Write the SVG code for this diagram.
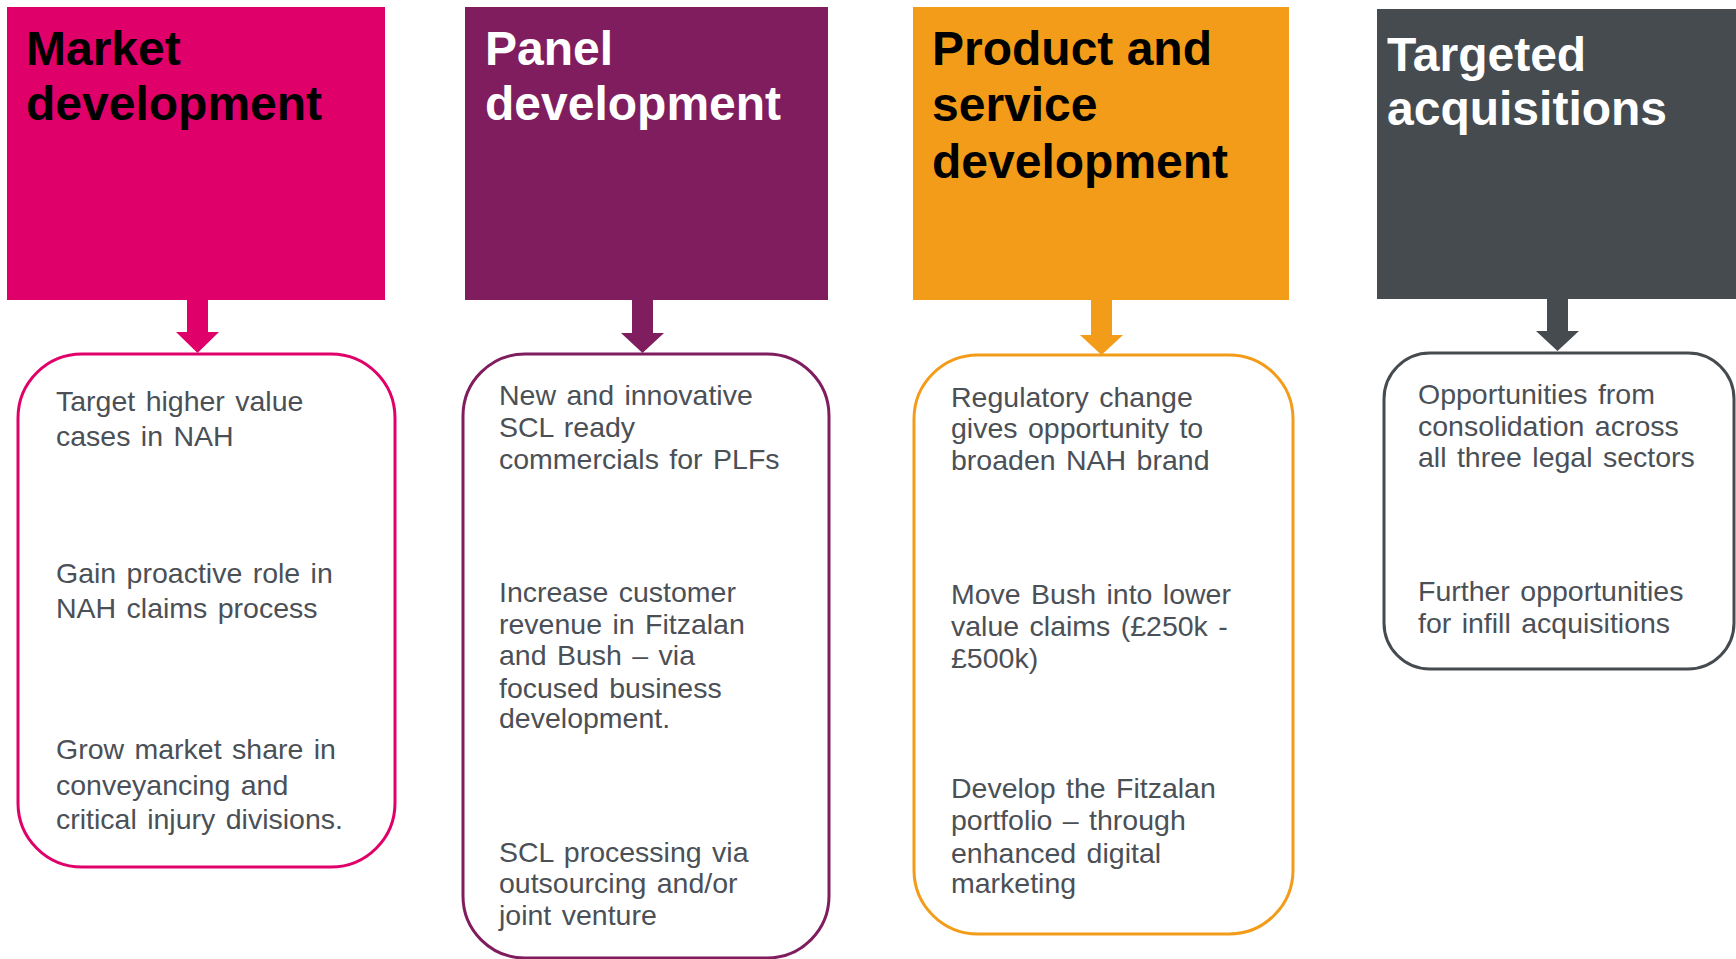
<svg xmlns="http://www.w3.org/2000/svg" width="1736" height="959" viewBox="0 0 1736 959">
  <style>
    .head { font-family: "Liberation Sans", Arial, sans-serif; font-size: 48px; font-weight: bold; }
    .body { font-family: "Liberation Sans", Arial, sans-serif; font-size: 28.5px; word-spacing: 2.5px; fill: #4b5056; }
    .card { fill: #ffffff; stroke-width: 3; }
  </style>
  <rect width="1736" height="959" fill="#ffffff"/>

  <!-- Market development -->
  <g id="market">
    <rect x="7" y="7" width="378" height="293" fill="#e0006a"/>
    <text class="head" fill="#000000"><tspan x="26" y="65">Market</tspan><tspan x="26" y="120">development</tspan></text>
    <rect class="card" x="18" y="354" width="377" height="513" rx="64" ry="64" stroke="#e0006a"/>
    <text class="body"><tspan x="56" y="411">Target higher value</tspan><tspan x="56" y="446">cases in NAH</tspan></text>
    <text class="body"><tspan x="56" y="583">Gain proactive role in</tspan><tspan x="56" y="618">NAH claims process</tspan></text>
    <text class="body"><tspan x="56" y="759">Grow market share in</tspan><tspan x="56" y="795">conveyancing and</tspan><tspan x="56" y="829">critical injury divisions.</tspan></text>
  </g>

  <!-- Panel development -->
  <g id="panel">
    <rect x="465" y="7" width="363" height="293" fill="#7f1d5e"/>
    <text class="head" fill="#ffffff"><tspan x="485" y="65">Panel</tspan><tspan x="485" y="120">development</tspan></text>
    <rect class="card" x="463" y="354" width="366" height="604" rx="62" ry="62" stroke="#7f1d5e"/>
    <text class="body"><tspan x="499" y="405">New and innovative</tspan><tspan x="499" y="437">SCL ready</tspan><tspan x="499" y="469">commercials for PLFs</tspan></text>
    <text class="body"><tspan x="499" y="602">Increase customer</tspan><tspan x="499" y="634">revenue in Fitzalan</tspan><tspan x="499" y="665">and Bush – via</tspan><tspan x="499" y="698">focused business</tspan><tspan x="499" y="728">development.</tspan></text>
    <text class="body"><tspan x="499" y="862">SCL processing via</tspan><tspan x="499" y="893">outsourcing and/or</tspan><tspan x="499" y="925">joint venture</tspan></text>
  </g>

  <!-- Product and service development -->
  <g id="product">
    <rect x="913" y="7" width="376" height="293" fill="#f39c1a"/>
    <text class="head" fill="#000000"><tspan x="932" y="65">Product and</tspan><tspan x="932" y="121">service</tspan><tspan x="932" y="178">development</tspan></text>
    <rect class="card" x="914" y="355" width="379" height="579" rx="64" ry="64" stroke="#f39c1a"/>
    <text class="body"><tspan x="951" y="407">Regulatory change</tspan><tspan x="951" y="438">gives opportunity to</tspan><tspan x="951" y="470">broaden NAH brand</tspan></text>
    <text class="body"><tspan x="951" y="604">Move Bush into lower</tspan><tspan x="951" y="636">value claims (£250k -</tspan><tspan x="951" y="668">£500k)</tspan></text>
    <text class="body"><tspan x="951" y="798">Develop the Fitzalan</tspan><tspan x="951" y="830">portfolio – through</tspan><tspan x="951" y="863">enhanced digital</tspan><tspan x="951" y="893">marketing</tspan></text>
  </g>

  <!-- Targeted acquisitions -->
  <g id="targeted">
    <rect x="1377" y="9" width="359" height="290" fill="#464b50"/>
    <text class="head" fill="#ffffff"><tspan x="1387" y="71">Targeted</tspan><tspan x="1387" y="125">acquisitions</tspan></text>
    <rect class="card" x="1384" y="353" width="350" height="316" rx="46" ry="46" stroke="#464b50"/>
    <text class="body"><tspan x="1418" y="404">Opportunities from</tspan><tspan x="1418" y="436">consolidation across</tspan><tspan x="1418" y="467">all three legal sectors</tspan></text>
    <text class="body"><tspan x="1418" y="601">Further opportunities</tspan><tspan x="1418" y="633">for infill acquisitions</tspan></text>
  </g>

  <!-- Connectors: block arrows from each header to its card -->
  <g id="connectors">
    <polygon points="187,300 208,300 208,332 219,332 197.5,353 176,332 187,332" fill="#e0006a"/>
    <polygon points="632,300 653,300 653,333 664,333 642.5,353 621,333 632,333" fill="#7f1d5e"/>
    <polygon points="1091,300 1112,300 1112,335 1123,335 1101.5,355 1080,335 1091,335" fill="#f39c1a"/>
    <polygon points="1547,299 1568,299 1568,331 1579,331 1557.5,351 1536,331 1547,331" fill="#464b50"/>
  </g>
</svg>
